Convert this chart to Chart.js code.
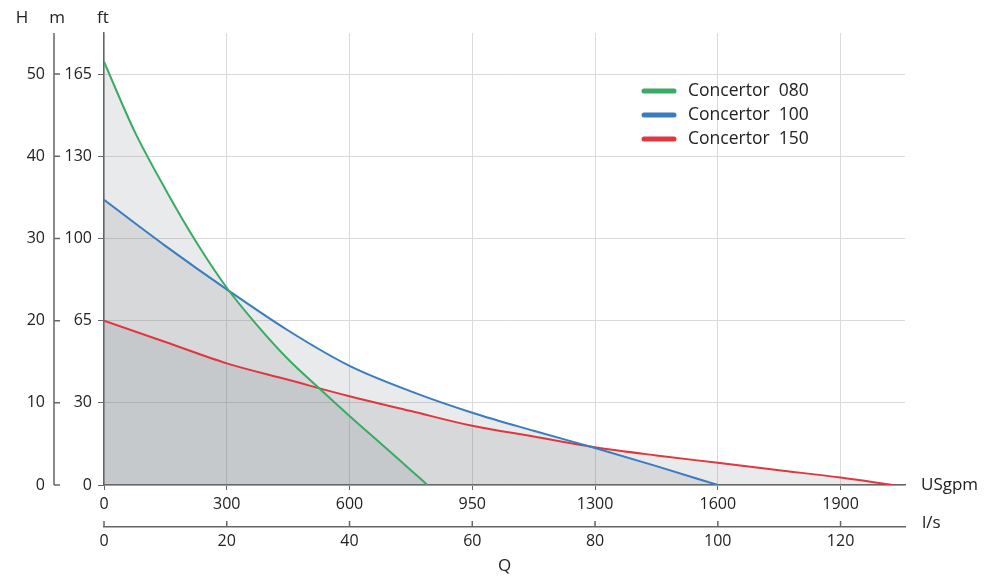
<!DOCTYPE html>
<html>
<head>
<meta charset="utf-8">
<script src="https://cdn.jsdelivr.net/npm/chart.js@4.4.0/dist/chart.umd.min.js"></script>
<style>
    html, body { margin: 0; padding: 0; background: #fff; }
    #wrap { width: 1003px; height: 576px; }
</style>
</head>
<body>
<div id="wrap"><canvas id="pumpChart" width="1003" height="576"></canvas></div>
<script>
// Flow in l/s, head in m
const q080 = [0, 5, 10, 15, 20, 25, 30, 35, 40, 45, 50, 52.7];
const h080 = [51.5, 43.0, 36.0, 29.6, 24.0, 19.4, 15.3, 11.8, 8.4, 5.1, 1.8, 0];

const q100 = [0, 10, 20, 30, 40, 50, 60, 70, 80, 90, 100];
const h100 = [34.7, 29.1, 23.8, 18.8, 14.5, 11.4, 8.8, 6.6, 4.5, 2.3, 0];

const q150 = [0, 10, 20, 30, 40, 50, 60, 70, 80, 90, 100, 110, 120, 128.5];
const h150 = [20.0, 17.4, 14.8, 12.8, 10.8, 9.0, 7.2, 5.9, 4.6, 3.6, 2.7, 1.8, 0.9, 0];

const seriesNames = ['Concertor  080', 'Concertor  100', 'Concertor  150'];
const seriesColors = ['#3aaa64', '#3a7dbf', '#e0363f'];

// Axis ticks and the labels printed next to them
const lsTicks = [0, 20, 40, 60, 80, 100, 120];
const usgpmLabels = ['0', '300', '600', '950', '1300', '1600', '1900'];
const mTicks = [0, 10, 20, 30, 40, 50];
const ftLabels = ['0', '30', '65', '100', '130', '165'];

const axisColor = '#666666';
const gridColor = '#dadada';
const textColor = '#222222';
const fillColor = 'rgba(110, 115, 122, 0.15)';
const fontFamily = '"Open Sans", Lato, sans-serif';

Chart.defaults.font.family = fontFamily;
Chart.defaults.font.size = 16;
Chart.defaults.color = textColor;

function toPoints(xs, ys) {
    return xs.map((x, i) => ({ x: x, y: ys[i] }));
}

function labelFor(list, ticks, value) {
    const idx = ticks.indexOf(value);
    return idx >= 0 ? list[idx] : '';
}

// Extra axis pieces, unit captions and the legend
const extrasPlugin = {
    id: 'extras',
    afterDraw(chart) {
        const ctx = chart.ctx;
        const area = chart.chartArea;
        const ym = chart.scales.ym;
        const x2 = chart.scales.x2;

        ctx.save();
        ctx.strokeStyle = axisColor;
        ctx.lineWidth = 1.5;

        // m axis line with ticks pointing right
        const mx = ym.right;
        ctx.beginPath();
        ctx.moveTo(mx, area.top);
        ctx.lineTo(mx, area.bottom);
        mTicks.forEach(v => {
            const y = ym.getPixelForValue(v);
            ctx.moveTo(mx, y);
            ctx.lineTo(mx + 6, y);
        });
        ctx.stroke();

        // l/s ticks pointing up
        ctx.beginPath();
        lsTicks.forEach(v => {
            const x = x2.getPixelForValue(v);
            ctx.moveTo(x, x2.top);
            ctx.lineTo(x, x2.top - 6);
        });
        ctx.stroke();

        // captions
        ctx.fillStyle = textColor;
        ctx.font = '17px ' + fontFamily;
        ctx.textBaseline = 'middle';
        ctx.textAlign = 'center';
        ctx.fillText('H', 22, 18);
        ctx.fillText('m', 57, 18);
        ctx.fillText('ft', 103, 18);
        ctx.textAlign = 'left';
        ctx.fillText('USgpm', 921, area.bottom);
        ctx.fillText('l/s', 922, x2.top - 4);

        // legend
        ctx.font = '17.5px ' + fontFamily;
        ctx.lineCap = 'round';
        ctx.lineWidth = 5;
        seriesNames.forEach((name, i) => {
            const y = 91 + i * 24;
            ctx.strokeStyle = seriesColors[i];
            ctx.beginPath();
            ctx.moveTo(644, y);
            ctx.lineTo(674, y);
            ctx.stroke();
            ctx.fillText(name, 688, y);
        });
        ctx.restore();
    }
};

const datasets = [
    { label: seriesNames[0], data: toPoints(q080, h080), borderColor: seriesColors[0] },
    { label: seriesNames[1], data: toPoints(q100, h100), borderColor: seriesColors[1] },
    { label: seriesNames[2], data: toPoints(q150, h150), borderColor: seriesColors[2] }
].map(ds => Object.assign(ds, {
    backgroundColor: fillColor,
    fill: 'origin',
    borderWidth: 2,
    pointRadius: 0,
    cubicInterpolationMode: 'monotone',
    xAxisID: 'x',
    yAxisID: 'y'
}));

new Chart(document.getElementById('pumpChart'), {
    type: 'line',
    data: { datasets: datasets },
    options: {
        responsive: false,
        animation: false,
        devicePixelRatio: 1,
        layout: { padding: { top: 33, right: 98, bottom: 0, left: 0 } },
        plugins: {
            legend: { display: false },
            tooltip: { enabled: false },
            filler: { drawTime: 'beforeDatasetsDraw' }
        },
        scales: {
            x: {
                type: 'linear',
                position: 'bottom',
                min: 0,
                max: 130.5,
                ticks: {
                    stepSize: 20,
                    includeBounds: false,
                    padding: 5,
                    maxRotation: 0,
                    callback: v => labelFor(usgpmLabels, lsTicks, v)
                },
                grid: { color: gridColor, tickColor: axisColor, tickLength: 5 },
                border: { color: axisColor, width: 1.5 },
                afterFit: s => { s.height = 42; }
            },
            x2: {
                type: 'linear',
                position: 'bottom',
                weight: 1,
                min: 0,
                max: 130.5,
                ticks: { stepSize: 20, includeBounds: false, padding: 5, maxRotation: 0 },
                grid: { display: false, drawTicks: false },
                border: { color: axisColor, width: 1.5 },
                title: { display: true, text: 'Q', font: { size: 17 }, padding: { top: 0, bottom: 0 } },
                afterFit: s => { s.height = 49; }
            },
            y: {
                type: 'linear',
                position: 'left',
                min: 0,
                max: 55,
                ticks: {
                    stepSize: 10,
                    includeBounds: false,
                    padding: 6,
                    callback: v => labelFor(ftLabels, mTicks, v)
                },
                grid: { color: gridColor, tickColor: axisColor, tickLength: 6 },
                border: { color: axisColor, width: 1.5 },
                afterFit: s => { s.width = 50; }
            },
            ym: {
                type: 'linear',
                position: 'left',
                weight: 1,
                min: 0,
                max: 55,
                ticks: { stepSize: 10, includeBounds: false, padding: 9 },
                grid: { display: false, drawTicks: false },
                border: { display: false },
                afterFit: s => { s.width = 54; }
            }
        }
    },
    plugins: [extrasPlugin]
});
</script>
</body>
</html>
